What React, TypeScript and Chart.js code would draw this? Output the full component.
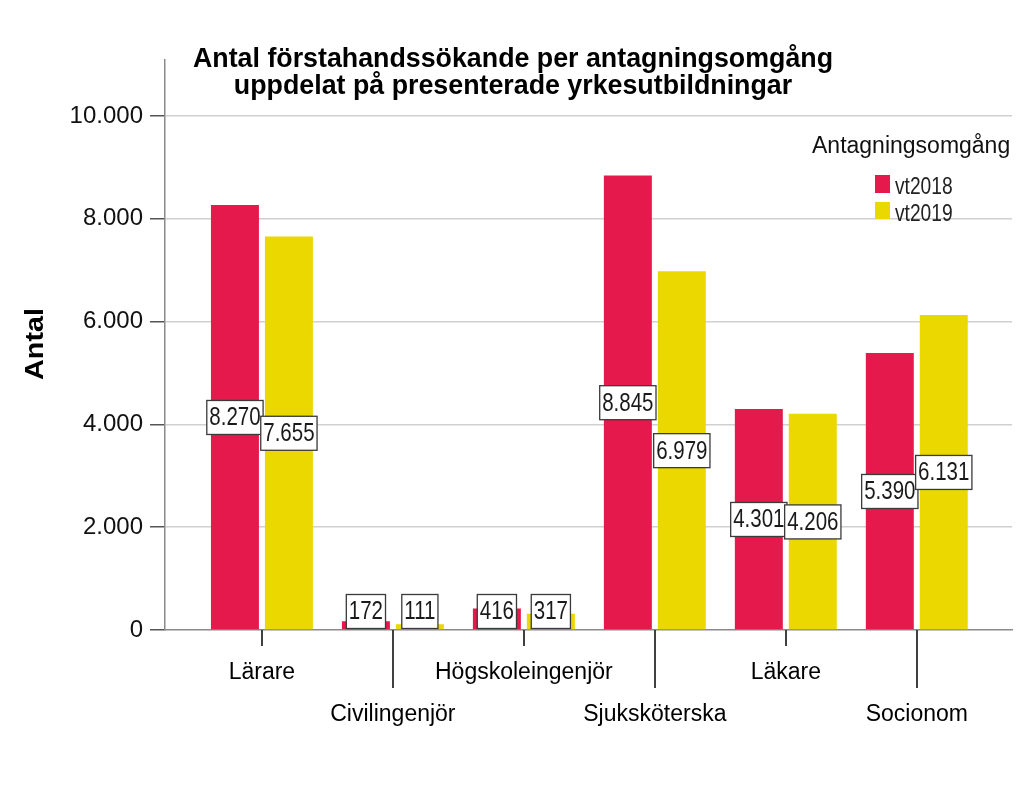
import React, { useEffect, useRef } from "react";
import { Chart, registerables } from "chart.js";

Chart.register(...registerables);

const categories = ["Lärare", "Civilingenjör", "Högskoleingenjör", "Sjuksköterska", "Läkare", "Socionom"];
const seriesNames = ["vt2018", "vt2019"];
const vt2018 = [8270, 172, 416, 8845, 4301, 5390];
const vt2019 = [7655, 111, 317, 6979, 4206, 6131];
const yTicks = [0, 2000, 4000, 6000, 8000, 10000];
const seriesColors = ["#E5194B", "#EAD800"];
const titleLines = ["Antal förstahandssökande per antagningsomgång", "uppdelat på presenterade yrkesutbildningar"];
const yTitle = "Antal";
const legendTitle = "Antagningsomgång";

const FONT = "'Liberation Sans', Arial, sans-serif";

const fmt = (v: number) => String(Math.round(v)).replace(/\B(?=(\d{3})+(?!\d))/g, ".");

const decorPlugin = {
  id: "decor",
  beforeDraw(chart: any) {
    const ctx = chart.ctx;
    ctx.save();
    ctx.fillStyle = "#ffffff";
    ctx.fillRect(0, 0, chart.width, chart.height);
    ctx.restore();
  },
  afterDatasetsDraw(chart: any) {
    const ctx = chart.ctx;
    const yScale = chart.scales.y;
    const zeroY = yScale.getPixelForValue(0);
    const boxH = 34;
    const sx = 0.82;
    ctx.save();
    ctx.font = `25px ${FONT}`;
    chart.data.datasets.forEach((ds: any, di: number) => {
      const meta = chart.getDatasetMeta(di);
      meta.data.forEach((bar: any, i: number) => {
        const v = ds.data[i].y;
        const txt = fmt(v);
        const tw = ctx.measureText(txt).width * sx;
        const bw = tw + 5;
        const cx = bar.x;
        const cy = Math.min(yScale.getPixelForValue(v / 2), zeroY - boxH / 2 - 1.5);
        ctx.fillStyle = "#ffffff";
        ctx.fillRect(cx - bw / 2, cy - boxH / 2, bw, boxH);
        ctx.strokeStyle = "#3a3a3a";
        ctx.lineWidth = 1.3;
        ctx.strokeRect(cx - bw / 2, cy - boxH / 2, bw, boxH);
        ctx.save();
        ctx.translate(cx, cy + 1);
        ctx.scale(sx, 1);
        ctx.fillStyle = "#1a1a1a";
        ctx.textAlign = "center";
        ctx.textBaseline = "middle";
        ctx.fillText(txt, 0, 0);
        ctx.restore();
      });
    });
    ctx.restore();
  },
  afterDraw(chart: any) {
    const ctx = chart.ctx;
    const xScale = chart.scales.x;
    const yScale = chart.scales.y;
    const zeroY = yScale.getPixelForValue(0);
    ctx.save();
    // category tick marks (alternating lengths)
    ctx.strokeStyle = "#404040";
    ctx.lineWidth = 2;
    categories.forEach((_, i) => {
      const x = Math.round(xScale.getPixelForValue(i));
      ctx.beginPath();
      ctx.moveTo(x, zeroY);
      ctx.lineTo(x, zeroY + (i % 2 ? 58 : 16));
      ctx.stroke();
    });
    // title (slightly condensed, as in the reference)
    ctx.fillStyle = "#000";
    ctx.textAlign = "center";
    ctx.textBaseline = "alphabetic";
    ctx.font = `bold 28.5px ${FONT}`;
    [67, 94].forEach((base, li) => {
      ctx.save();
      ctx.translate(513, base);
      ctx.scale(0.94, 1);
      ctx.fillText(titleLines[li], 0, 0);
      ctx.restore();
    });
    // y title
    ctx.save();
    ctx.translate(43, 344);
    ctx.rotate(-Math.PI / 2);
    ctx.scale(1.15, 1);
    ctx.font = `bold 25px ${FONT}`;
    ctx.textAlign = "center";
    ctx.fillText(yTitle, 0, 0);
    ctx.restore();
    // legend
    ctx.textAlign = "left";
    ctx.font = `23px ${FONT}`;
    ctx.fillStyle = "#111";
    ctx.fillText(legendTitle, 812, 153);
    const rows = [
      { y: 175, h: 18, base: 194 },
      { y: 202, h: 17, base: 221 },
    ];
    seriesNames.forEach((name, i) => {
      ctx.fillStyle = seriesColors[i];
      ctx.fillRect(875, rows[i].y, 15, rows[i].h);
      ctx.save();
      ctx.translate(895, rows[i].base);
      ctx.scale(0.8, 1);
      ctx.font = `24px ${FONT}`;
      ctx.fillStyle = "#222";
      ctx.fillText(name, 0, 0);
      ctx.restore();
    });
    ctx.restore();
  },
};

export default function App() {
  const ref = useRef<HTMLCanvasElement | null>(null);
  useEffect(() => {
    if (!ref.current) return;
    const seriesData = [vt2018, vt2019];
    const chart = new Chart(ref.current, {
      type: "bar",
      data: {
        datasets: seriesNames.map((name, di) => ({
          label: name,
          data: seriesData[di].map((v, i) => ({ x: i, y: v })),
          backgroundColor: seriesColors[di],
          borderWidth: 0,
          barPercentage: 0.889,
          categoryPercentage: 0.824,
        })),
      },
      options: {
        responsive: false,
        animation: false,
        layout: { padding: { top: 59.5, right: 12, bottom: 0, left: 0 } },
        plugins: {
          legend: { display: false },
          tooltip: { enabled: false },
          title: { display: false },
        },
        scales: {
          x: {
            type: "linear",
            offset: false,
            min: -0.74,
            max: 5.727,
            afterBuildTicks: (s: any) => {
              s.ticks = categories.map((_, i) => ({ value: i }));
            },
            afterFit: (s: any) => {
              s.height = 172;
            },
            grid: { display: false, drawTicks: false, offset: false },
            border: { display: true, color: "#8a8a8a", width: 1.5 },
            ticks: {
              autoSkip: false,
              maxRotation: 0,
              minRotation: 0,
              padding: 22,
              color: "#000",
              font: { family: FONT, size: 23, lineHeight: 42 / 23 },
              callback: (v: any) => {
                const i = Math.round(Number(v));
                const name = categories[i] ?? "";
                return i % 2 ? ["", name] : [name];
              },
            },
          },
          y: {
            min: 0,
            max: 11100,
            afterBuildTicks: (s: any) => {
              s.ticks = yTicks.map((v) => ({ value: v }));
            },
            afterFit: (s: any) => {
              s.width = 165;
            },
            grid: {
              color: (c: any) => (c.tick && c.tick.value === 0 ? "rgba(0,0,0,0)" : "#d0d0d0"),
              lineWidth: 1.5,
              drawTicks: true,
              tickLength: 15,
              tickColor: "#555",
              tickWidth: 1.5,
            },
            border: { display: true, color: "#8a8a8a", width: 1.5 },
            ticks: {
              padding: 7,
              color: "#111",
              font: { family: FONT, size: 24 },
              callback: (v: any) => fmt(Number(v)),
            },
          },
        },
      },
      plugins: [decorPlugin],
    });
    return () => chart.destroy();
  }, []);
  return (
    <div style={{ position: "absolute", left: 0, top: 0, width: 1024, height: 802, background: "#fff" }}>
      <canvas ref={ref} width={1024} height={802} style={{ display: "block", width: 1024, height: 802 }} />
    </div>
  );
}
